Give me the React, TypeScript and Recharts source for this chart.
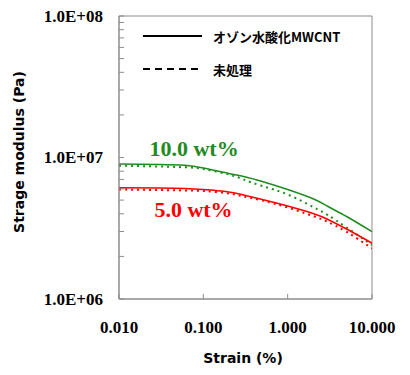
import React from 'react';
import { LineChart, Line, XAxis, YAxis, ReferenceArea, ReferenceDot, Label } from 'recharts';

const strain = [0.01, 0.03, 0.06, 0.1, 0.2, 0.3, 0.5, 1, 2, 3, 5, 10];
const ozone10 = [9.0e6, 8.92e6, 8.81e6, 8.43e6, 7.71e6, 7.34e6, 6.77e6, 5.94e6, 5.11e6, 4.51e6, 3.83e6, 2.99e6];
const untreated10 = [8.75e6, 8.64e6, 8.53e6, 8.29e6, 7.59e6, 6.99e6, 6.29e6, 5.48e6, 4.47e6, 3.92e6, 3.2e6, 2.41e6];
const ozone5 = [6.12e6, 6.09e6, 6.04e6, 5.94e6, 5.71e6, 5.43e6, 5.05e6, 4.54e6, 4.02e6, 3.65e6, 3.12e6, 2.48e6];
const untreated5 = [5.94e6, 5.89e6, 5.85e6, 5.8e6, 5.57e6, 5.3e6, 4.97e6, 4.43e6, 3.86e6, 3.5e6, 2.98e6, 2.28e6];

const xTicks = [0.01, 0.1, 1, 10];
const yTicks = [
  1e6, 2e6, 3e6, 4e6, 5e6, 6e6, 7e6, 8e6, 9e6,
  1e7, 2e7, 3e7, 4e7, 5e7, 6e7, 7e7, 8e7, 9e7, 1e8,
];
const yMajor = [1e6, 1e7, 1e8];
const yMajorLabels = ['1.0E+06', '1.0E+07', '1.0E+08'];

const legendNames = ['オゾン水酸化MWCNT', '未処理'];
const annotations = [
  { text: '10.0 wt%', x: 0.0776, y: 1.167e7, color: '#1E8C1E' },
  { text: '5.0 wt%', x: 0.0765, y: 4.3e6, color: '#FF0000' },
];

const GREEN = '#1E8C1E';
const RED = '#FF0000';
const FRAME = '#8C8C8C';

const data = strain.map((s, i) => ({
  strain: s,
  ozone10: ozone10[i],
  untreated10: untreated10[i],
  ozone5: ozone5[i],
  untreated5: untreated5[i],
}));

const serif = '"Liberation Serif", "Times New Roman", serif';
const sans = '"DejaVu Sans", Verdana, sans-serif';
const cjk = '"Noto Sans CJK JP", "Noto Sans", sans-serif';

const YTick = (props: any) => {
  const { x, y, payload } = props;
  const idx = yMajor.findIndex((m) => Math.abs(m - payload.value) / m < 1e-6);
  return (
    <g>
      <line x1={x} x2={x + 5} y1={y} y2={y} stroke={FRAME} strokeWidth={1} />
      {idx >= 0 && (
        <text
          x={x - 16}
          y={y}
          textAnchor="end"
          dominantBaseline="central"
          fontFamily={serif}
          fontWeight="bold"
          fontSize={17}
          fill="#000"
        >
          {yMajorLabels[idx]}
        </text>
      )}
    </g>
  );
};

const XTick = (props: any) => {
  const { x, y, payload } = props;
  return (
    <g>
      <line x1={x} x2={x} y1={y} y2={y - 5} stroke={FRAME} strokeWidth={1} />
      <text
        x={x}
        y={y + 28}
        textAnchor="middle"
        dominantBaseline="central"
        fontFamily={serif}
        fontWeight="bold"
        fontSize={17}
        fill="#000"
      >
        {Number(payload.value).toFixed(3)}
      </text>
    </g>
  );
};

export default function App() {
  return (
    <div style={{ position: 'absolute', left: 0, top: 0, width: 410, height: 375, background: '#fff' }}>
      <LineChart
        width={410}
        height={375}
        data={data}
        margin={{ top: 16, right: 38, bottom: 16, left: 0 }}
      >
        <XAxis
          dataKey="strain"
          type="number"
          scale="log"
          domain={[0.01, 10]}
          ticks={xTicks}
          allowDataOverflow
          height={60}
          tickSize={0}
          tickMargin={0}
          tickLine={false}
          axisLine={{ stroke: FRAME }}
          tick={<XTick />}
          interval={0}
        >
          <Label
            content={() => (
              <text
                x={243}
                y={358}
                textAnchor="middle"
                dominantBaseline="central"
                fontFamily={sans}
                fontWeight="bold"
                fontSize={14}
                fill="#000"
              >
                Strain (%)
              </text>
            )}
          />
        </XAxis>
        <YAxis
          type="number"
          scale="log"
          domain={[1e6, 1e8]}
          ticks={yTicks}
          allowDataOverflow
          width={119}
          tickSize={0}
          tickMargin={0}
          tickLine={false}
          axisLine={{ stroke: FRAME }}
          tick={<YTick />}
          interval={0}
        >
          <Label
            content={() => (
              <text
                x={19}
                y={152}
                transform="rotate(-90 19 152)"
                textAnchor="middle"
                dominantBaseline="central"
                fontFamily={sans}
                fontWeight="bold"
                fontSize={14}
                fill="#000"
              >
                Strage modulus (Pa)
              </text>
            )}
          />
        </YAxis>
        <ReferenceArea
          x1={0.01}
          x2={10}
          y1={1e6}
          y2={1e8}
          fill="none"
          fillOpacity={0}
          stroke={FRAME}
          strokeWidth={1}
          ifOverflow="visible"
        />
        <Line
          dataKey="untreated10"
          type="natural"
          stroke={GREEN}
          strokeWidth={2}
          strokeDasharray="2 4"
          dot={false}
          isAnimationActive={false}
        />
        <Line
          dataKey="untreated5"
          type="natural"
          stroke={RED}
          strokeWidth={2}
          strokeDasharray="2 4"
          dot={false}
          isAnimationActive={false}
        />
        <Line
          dataKey="ozone10"
          type="natural"
          stroke={GREEN}
          strokeWidth={1.6}
          dot={false}
          isAnimationActive={false}
        />
        <Line
          dataKey="ozone5"
          type="natural"
          stroke={RED}
          strokeWidth={1.6}
          dot={false}
          isAnimationActive={false}
        />
        {annotations.map((a) => (
          <ReferenceDot
            key={a.text}
            x={a.x}
            y={a.y}
            r={0}
            fill="none"
            stroke="none"
            ifOverflow="visible"
            label={(p: any) => {
              const vb = p.viewBox || {};
              const cx = (vb.x ?? 0) + (vb.width ?? 0) / 2;
              const cy = (vb.y ?? 0) + (vb.height ?? 0) / 2;
              return (
                <text
                  x={cx}
                  y={cy}
                  textAnchor="middle"
                  dominantBaseline="central"
                  fontFamily={serif}
                  fontWeight="bold"
                  fontSize={22}
                  fill={a.color}
                >
                  {a.text}
                </text>
              );
            }}
          />
        ))}
      </LineChart>
      <svg
        width={410}
        height={375}
        style={{ position: 'absolute', left: 0, top: 0, pointerEvents: 'none' }}
      >
        <line x1={143} x2={202} y1={36} y2={36} stroke="#000" strokeWidth={2} />
        <text x={213} y={36} dominantBaseline="central" fontFamily={cjk} fontWeight="bold" fontSize={13} fill="#000">
          {legendNames[0]}
        </text>
        <line x1={143} x2={202} y1={69} y2={69} stroke="#000" strokeWidth={2} strokeDasharray="7 5" />
        <text x={213} y={69} dominantBaseline="central" fontFamily={cjk} fontWeight="bold" fontSize={13} fill="#000">
          {legendNames[1]}
        </text>
      </svg>
    </div>
  );
}
